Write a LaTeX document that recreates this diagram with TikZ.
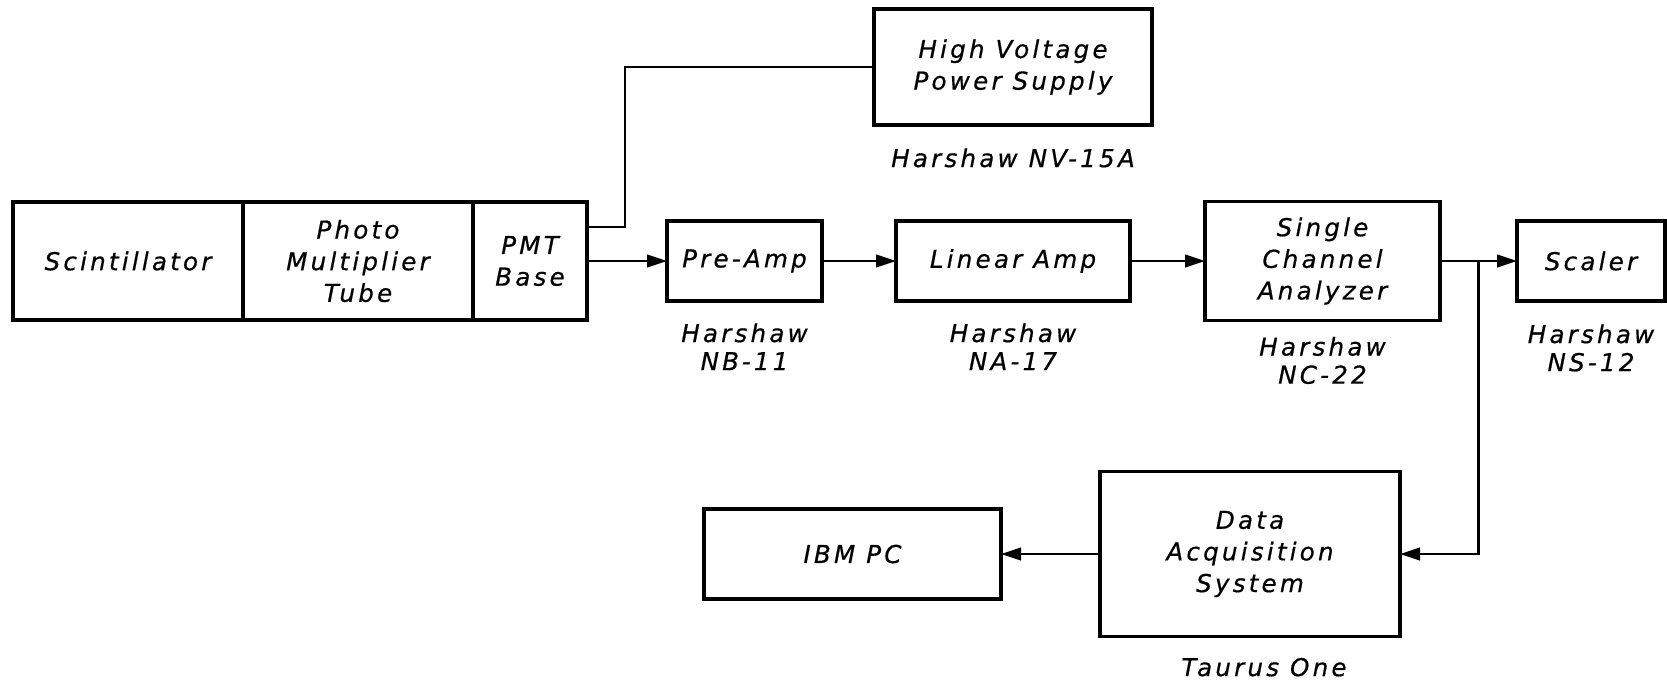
\documentclass[tikz,border=0pt]{standalone}
\usepackage{fontspec}
\setmainfont{DejaVu Sans}[LetterSpace=13,FakeBold=0.6]
\usetikzlibrary{arrows.meta,positioning,calc}

\begin{document}
\begin{tikzpicture}[
  unitbox/.style={draw, line width=2pt, outer sep=0pt, minimum height=1.6cm, align=center, font=\itshape\fontsize{14}{18}\selectfont, inner sep=2pt},
  maker/.style={align=center, font=\itshape\fontsize{14}{16}\selectfont, inner sep=0pt},
  arr/.style={-{Triangle[length=4mm,width=2.5mm]}, line width=1.4pt},
  wire/.style={line width=1.4pt}
]
\useasboundingbox (0,0) rectangle (33.34,-13.7);
% detector head
\node[unitbox, minimum width=4.6cm, minimum height=2.36cm, anchor=west] (scint) at (0.26,-5.22) {Scintillator};
\node[unitbox, minimum width=4.6cm, minimum height=2.36cm, right=0cm of scint] (pmt) {Photo\\Multiplier\\Tube};
\node[unitbox, minimum width=2.28cm, minimum height=2.36cm, right=0cm of pmt] (base) {PMT\\Base};
% electronics chain
\node[unitbox, minimum width=3.1cm, right=1.6cm of base] (pre) {Pre-Amp};
\node[unitbox, minimum width=4.68cm, right=1.48cm of pre] (lin) {Linear Amp};
\node[unitbox, minimum width=4.7cm, minimum height=2.38cm, right=1.5cm of lin] (sca) {Single\\Channel\\Analyzer};
\node[unitbox, minimum width=2.96cm, right=1.54cm of sca] (scaler) {Scaler};
\node[unitbox, minimum width=5.56cm, minimum height=2.32cm, above=1.92cm of lin] (hv) {High Voltage\\Power Supply};
\node[unitbox, minimum width=6.0cm, minimum height=3.3cm] (das) at (25.0,-11.08) {Data\\Acquisition\\System};
\node[unitbox, minimum width=5.94cm, minimum height=1.8cm, left=1.98cm of das] (pc) {IBM PC};
% model numbers
\node[maker, below=0.46cm of hv] (hvinfo) {Harshaw NV-15A};
\node[maker, below=0.44cm of pre] (preinfo) {Harshaw\\NB-11};
\node[maker, below=0.44cm of lin] (lininfo) {Harshaw\\NA-17};
\node[maker, below=0.32cm of sca] (scainfo) {Harshaw\\NC-22};
\node[maker, below=0.46cm of scaler] (scalerinfo) {Harshaw\\NS-12};
\node[maker, below=0.42cm of das, xshift=0.28cm] (dasinfo) {Taurus One};
% connections
\coordinate (hvout) at ($(base.north east)+(0,-0.5)$);
\coordinate (tap) at ($(sca.east)!0.5!(scaler.west)$);
\draw[wire] (hvout) -- ++(0.76,0) |- (hv.west);
\draw[arr] (base) -- (pre);
\draw[arr] (pre) -- (lin);
\draw[arr] (lin) -- (sca);
\draw[arr] (sca) -- (scaler);
\draw[arr] (tap) |- (das);
\draw[arr] (das) -- (pc);
\end{tikzpicture}
\end{document}
